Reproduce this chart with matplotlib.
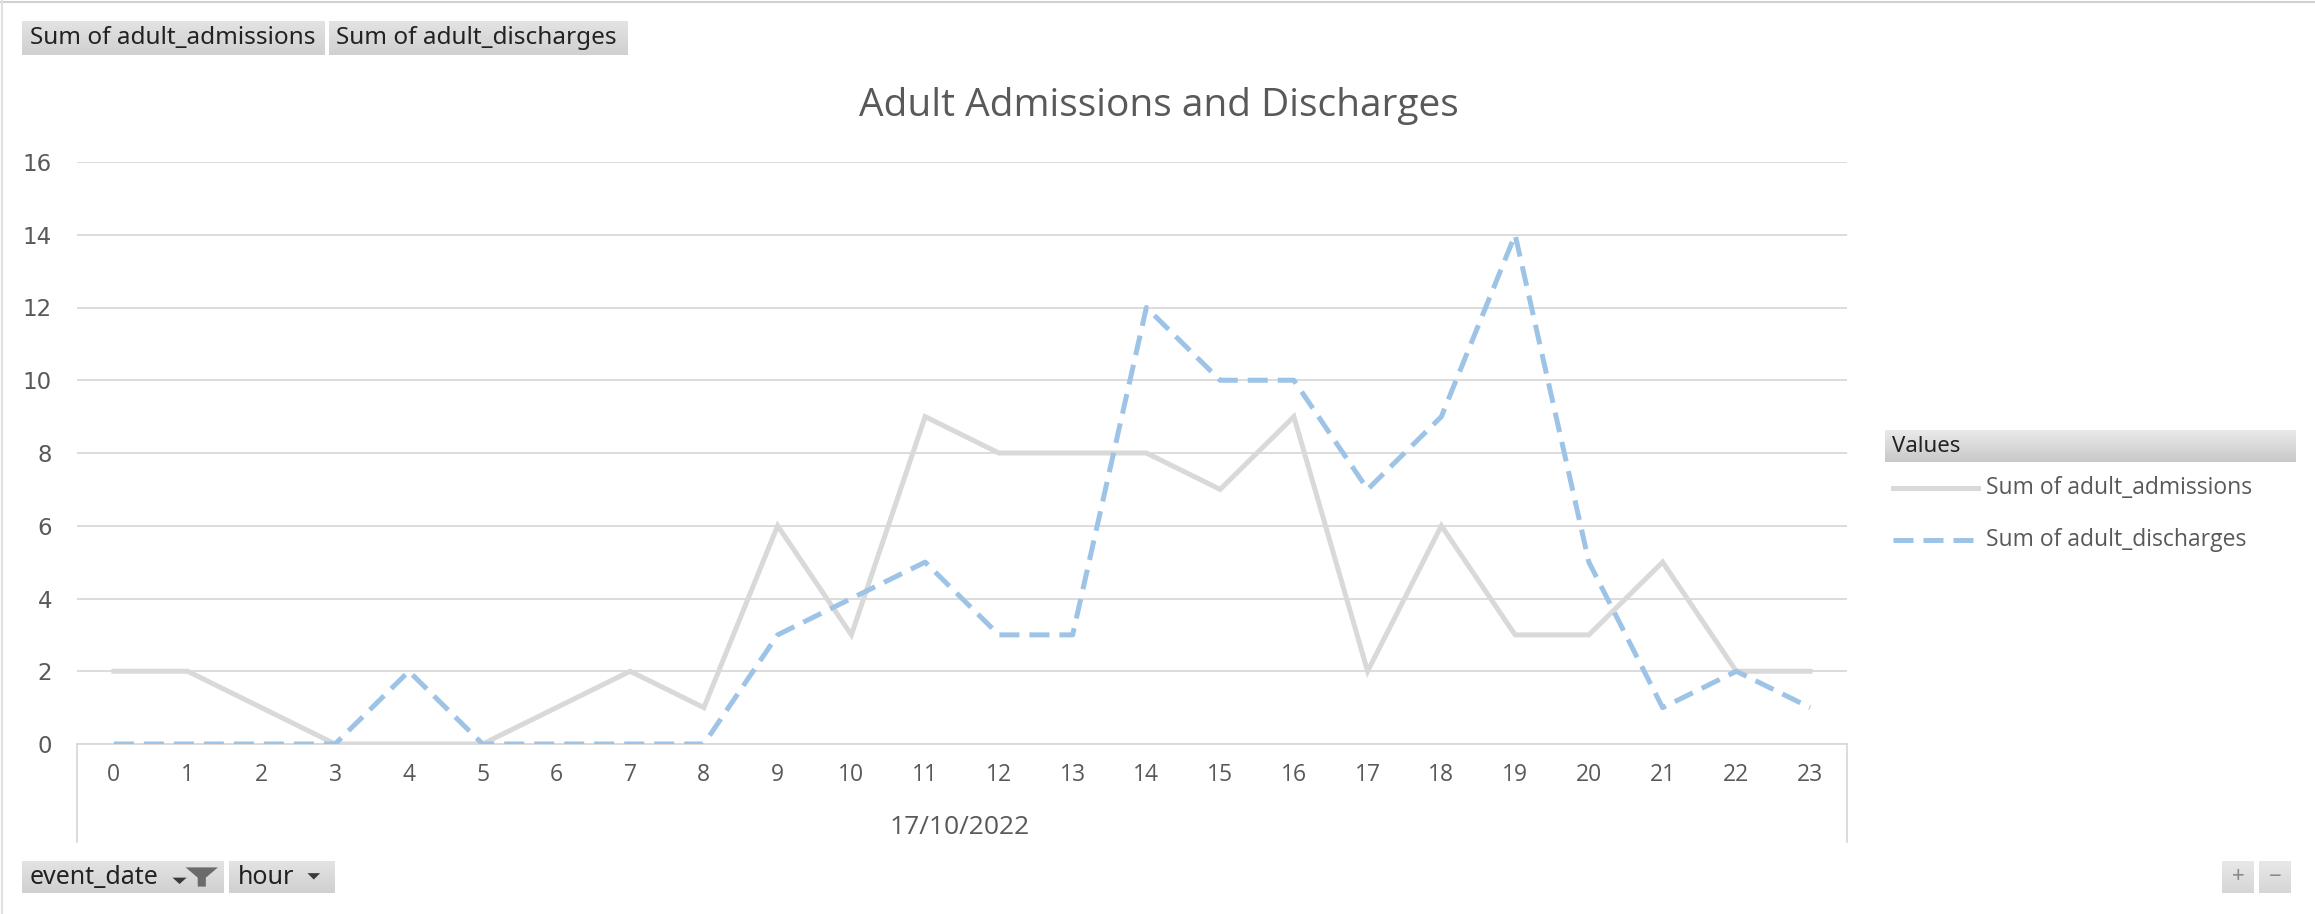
"""
Adult admissions and discharges by hour, pivot-chart style
"""
import numpy as np
import matplotlib.pyplot as plt
from matplotlib.lines import Line2D
from matplotlib.patches import Polygon
from matplotlib.colors import LinearSegmentedColormap

W, H, DPI = 2315, 914, 100

# Data (one day, by hour)
hours = list(range(24))
admissions = [2, 2, 1, 0, 0, 0, 1, 2, 1, 6, 3, 9, 8, 8, 8, 7, 9, 2, 6, 3, 3, 5, 2, 2]
discharges = [0, 0, 0, 0, 2, 0, 0, 0, 0, 3, 4, 5, 3, 3, 12, 10, 10, 7, 9, 14, 5, 1, 2, 1]
y_ticks = [0, 2, 4, 6, 8, 10, 12, 14, 16]
series_names = ['Sum of adult_admissions', 'Sum of adult_discharges']
event_date = '17/10/2022'
title = 'Adult Admissions and Discharges'

GRID = '#d9d9d9'
TEXT = '#595959'
ADM_COLOR = '#d9d9d9'
DIS_COLOR = '#9dc3e6'
UI_FONT = 'Noto Sans'
BODY_FONT = 'Open Sans'

fig = plt.figure(figsize=(W / DPI, H / DPI), dpi=DPI)
fig.patch.set_facecolor('white')


# pixel helpers (origin top-left)
def fx(px):
    return px / W


def fy(py):
    return 1 - py / H


def button(x0, y0, x1, y1, top_c='#e3e3e3', bot_c='#d0d0d0'):
    bax = fig.add_axes([fx(x0), fy(y1), fx(x1 - x0), (y1 - y0) / H])
    cmap = LinearSegmentedColormap.from_list('btn', [top_c, bot_c])
    grad = np.linspace(0, 1, 64)[:, None]
    bax.imshow(grad, aspect='auto', cmap=cmap, extent=[0, 1, 0, 1], origin='upper')
    bax.set_xlim(0, 1)
    bax.set_ylim(0, 1)
    bax.axis('off')
    return bax


def dropdown(bax, xc, yc, w=0.06, h=0.22):
    bax.add_patch(Polygon([[xc - w / 2, yc + h / 2], [xc + w / 2, yc + h / 2], [xc, yc - h / 2]],
                          closed=True, color='#3a3a3a', lw=0))


# ----- Plot area -----
left, right, top, bottom = 77, 1847, 162, 744
ax = fig.add_axes([fx(left), fy(bottom), fx(right - left), (bottom - top) / H])

ax.plot(hours, admissions, color=ADM_COLOR, lw=3.6, solid_joinstyle='miter', zorder=3)
dis_line, = ax.plot(hours, discharges, color=DIS_COLOR, lw=3.6, zorder=4)
dis_line.set_dashes((4, 2))

ax.set_xlim(-0.5, 23.5)
ax.set_ylim(0, 16)
ax.set_yticks(y_ticks)
ax.set_xticks(hours)
ax.set_xticklabels([str(h) for h in hours], fontsize=16.5, color=TEXT, family=BODY_FONT)
ax.set_yticklabels([str(v) for v in y_ticks], fontsize=16.5, color=TEXT, family='DejaVu Sans')
ax.tick_params(axis='both', length=0)
ax.tick_params(axis='y', pad=18)
ax.tick_params(axis='x', pad=14)
ax.grid(axis='y', color=GRID, lw=1.3)
ax.set_axisbelow(True)
for side in ['top', 'left', 'right']:
    ax.spines[side].set_visible(False)
ax.spines['bottom'].set_color(GRID)
ax.spines['bottom'].set_linewidth(1.3)

# category box under the axis
box_depth = (842 - bottom) / (bottom - top)
for xa in (0, 1):
    ax.plot([xa, xa], [0, -box_depth], transform=ax.transAxes, color=GRID, lw=1.3, clip_on=False)

fig.text(fx(960), fy(828), event_date, fontsize=19, color=TEXT, family=BODY_FONT,
         ha='center', va='center')

fig.text(fx(1159), fy(106), title, fontsize=28, color=TEXT, family=BODY_FONT,
         ha='center', va='center')

# ----- Legend -----
hdr = button(1885, 430, 2296, 462, top_c='#eaeaea', bot_c='#c8c8c8')
hdr.text(0.018, 0.5, 'Values', fontsize=16, color='#222222', family=UI_FONT, va='center', ha='left')

for i, (name, src) in enumerate(zip(series_names, ax.get_lines()[:2])):
    ly = 488 + i * 52
    key = Line2D([fx(1893), fx(1978)], [fy(ly), fy(ly)], color=src.get_color(), lw=src.get_linewidth())
    if i == 1:
        key.set_dashes((4, 2))
    fig.add_artist(key)
    fig.text(fx(1986), fy(ly), name, fontsize=16.5, color=TEXT, family=BODY_FONT, va='center', ha='left')

# ----- Field buttons -----
b1 = button(22, 21, 325, 55)
b1.text(0.025, 0.5, series_names[0], fontsize=17.5, color='#222222', family=UI_FONT, va='center')
b2 = button(329, 21, 627, 55)
b2.text(0.025, 0.5, series_names[1], fontsize=17.5, color='#222222', family=UI_FONT, va='center')

b3 = button(22, 861, 224, 893)
b3.text(0.04, 0.5, 'event_date', fontsize=18, color='#222222', family=UI_FONT, va='center')
dropdown(b3, 0.78, 0.38, w=0.07, h=0.2)
b3.add_patch(Polygon([[0.81, 0.8], [0.97, 0.8], [0.91, 0.48], [0.91, 0.2], [0.87, 0.2], [0.87, 0.48]],
                     closed=True, color='#6b6b6b', lw=0))

b4 = button(229, 861, 335, 893)
b4.text(0.08, 0.5, 'hour', fontsize=18, color='#222222', family=UI_FONT, va='center')
dropdown(b4, 0.8, 0.52, w=0.12, h=0.2)

b5 = button(2222, 861, 2254, 893, top_c='#e8e8e8', bot_c='#d6d6d6')
b5.text(0.5, 0.5, '+', fontsize=16, color='#8a8a8a', family=UI_FONT, va='center', ha='center')
b6 = button(2259, 861, 2291, 893, top_c='#e8e8e8', bot_c='#d6d6d6')
b6.text(0.5, 0.5, '\u2212', fontsize=16, color='#8a8a8a', family=UI_FONT, va='center', ha='center')

# thin frame along the top and left edge
fig.add_artist(Line2D([0, 1], [fy(2), fy(2)], color='#d0d0d0', lw=1.5))
fig.add_artist(Line2D([fx(1.5), fx(1.5)], [0, 1], color='#e0e0e0', lw=1.5))

plt.savefig('out.png', dpi=DPI, facecolor='white')
plt.close()
